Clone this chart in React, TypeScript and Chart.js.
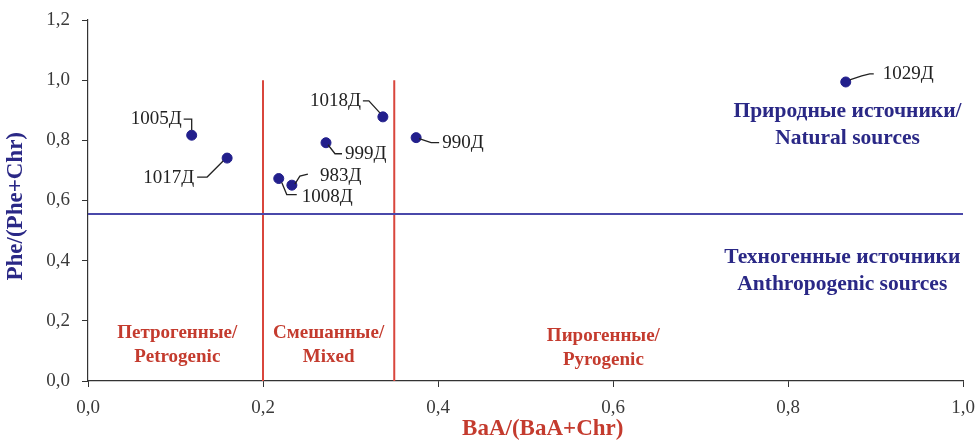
import React, { useEffect, useRef } from "react";
import { Chart, registerables } from "chart.js";

Chart.register(...registerables);

const sampleLabels = ["1005Д", "1017Д", "1018Д", "999Д", "1008Д", "983Д", "990Д", "1029Д"];
const xValues = [0.1185, 0.159, 0.337, 0.272, 0.218, 0.233, 0.375, 0.866];
const yValues = [0.817, 0.741, 0.878, 0.792, 0.673, 0.651, 0.809, 0.994];

const boundaryY = 0.555;
const boundaryX1 = 0.2;
const boundaryX2 = 0.35;

const xTickValues = [0, 0.2, 0.4, 0.6, 0.8, 1.0];
const yTickValues = [0, 0.2, 0.4, 0.6, 0.8, 1.0, 1.2];

const SERIF = "'Liberation Serif', 'Times New Roman', serif";
const RED = "#c43b2e";
const BLUE = "#2a2886";
const POINT = "#221f8c";

// leader-line styles (pixel offsets from the point), text anchor and alignment
const leaderStyles: Record<string, { path: number[][]; tx: number; ty: number; align: CanvasTextAlign }> = {
  "1005Д": { path: [[0, -5], [0, -16], [-8, -16]], tx: -10, ty: -16, align: "right" },
  "1017Д": { path: [[-4, 3], [-20, 19], [-30, 19]], tx: -33, ty: 20, align: "right" },
  "1018Д": { path: [[-3, -4], [-14, -16], [-20, -16]], tx: -22, ty: -16, align: "right" },
  "999Д": { path: [[2, 2], [9, 11], [16, 11]], tx: 19, ty: 11, align: "left" },
  "1008Д": { path: [[3, 4], [8, 16], [18, 16]], tx: 23, ty: 18, align: "left" },
  "983Д": { path: [[3, -1], [8, -9], [16, -11]], tx: 28, ty: -9, align: "left" },
  "990Д": { path: [[3, 1], [9, 3], [15, 5], [23, 5]], tx: 26, ty: 5, align: "left" },
  "1029Д": { path: [[4, -2], [16, -6], [24, -8], [28, -8]], tx: 37, ty: -8, align: "left" },
};

const zoneTexts = [
  { lines: ["Петрогенные/", "Petrogenic"], x: 0.102, y: [0.16, 0.08], color: RED, size: 19 },
  { lines: ["Смешанные/", "Mixed"], x: 0.275, y: [0.16, 0.08], color: RED, size: 19 },
  { lines: ["Пирогенные/", "Pyrogenic"], x: 0.589, y: [0.148, 0.07], color: RED, size: 19 },
  { lines: ["Природные источники/", "Natural sources"], x: 0.868, y: [0.897, 0.807], color: BLUE, size: 21.5 },
  { lines: ["Техногенные источники", "Anthropogenic sources"], x: 0.862, y: [0.41, 0.322], color: BLUE, size: 21.5 },
];

const labelPlugin = {
  id: "labels",
  afterDatasetsDraw(chart: any) {
    const ctx = chart.ctx;
    const xs = chart.scales.x;
    const ys = chart.scales.y;
    ctx.save();
    ctx.font = `19px ${SERIF}`;
    ctx.textBaseline = "middle";
    ctx.strokeStyle = "#222";
    ctx.lineWidth = 1.3;
    sampleLabels.forEach((lab, i) => {
      const px = xs.getPixelForValue(xValues[i]);
      const py = ys.getPixelForValue(yValues[i]);
      const st = leaderStyles[lab];
      ctx.beginPath();
      st.path.forEach((p, k) => {
        if (k === 0) ctx.moveTo(px + p[0], py + p[1]);
        else ctx.lineTo(px + p[0], py + p[1]);
      });
      ctx.stroke();
      ctx.fillStyle = "#222";
      ctx.textAlign = st.align;
      ctx.fillText(lab, px + st.tx, py + st.ty);
    });
    ctx.textAlign = "center";
    zoneTexts.forEach((z) => {
      ctx.font = `bold ${z.size}px ${SERIF}`;
      ctx.fillStyle = z.color;
      z.lines.forEach((t, k) => {
        ctx.fillText(t, xs.getPixelForValue(z.x), ys.getPixelForValue(z.y[k]));
      });
    });
    ctx.restore();
  },
};

const fmt = (v: number) => v.toFixed(1).replace(".", ",");

export default function App() {
  const ref = useRef<HTMLCanvasElement>(null);
  useEffect(() => {
    if (!ref.current) return;
    const chart = new Chart(ref.current, {
      type: "scatter",
      data: {
        datasets: [
          {
            type: "line",
            data: [{ x: 0, y: boundaryY }, { x: 1, y: boundaryY }],
            borderColor: "#4a48aa",
            borderWidth: 2,
            pointRadius: 0,
          } as any,
          {
            type: "line",
            data: [{ x: boundaryX1, y: 0 }, { x: boundaryX1, y: 1.0 }],
            borderColor: "#d9463c",
            borderWidth: 2,
            pointRadius: 0,
          } as any,
          {
            type: "line",
            data: [{ x: boundaryX2, y: 0 }, { x: boundaryX2, y: 1.0 }],
            borderColor: "#d9463c",
            borderWidth: 2,
            pointRadius: 0,
          } as any,
          {
            data: xValues.map((x, i) => ({ x, y: yValues[i] })),
            backgroundColor: POINT,
            borderColor: POINT,
            pointRadius: 5,
          },
        ],
      },
      options: {
        animation: false,
        responsive: false,
        layout: { padding: { top: 20, right: 13, left: 0, bottom: 0 } },
        plugins: { legend: { display: false }, tooltip: { enabled: false } },
        scales: {
          x: {
            type: "linear",
            min: 0,
            max: 1,
            afterFit: (s: any) => { s.height = 62; s.paddingLeft = 0; s.paddingRight = 0; },
            afterBuildTicks: (s: any) => { s.ticks = xTickValues.map((v) => ({ value: v })); },
            ticks: {
              callback: (v: any) => fmt(Number(v)),
              color: "#3a3a3a",
              font: { family: SERIF, size: 19 },
              padding: 10,
              maxRotation: 0,
            },
            grid: { drawOnChartArea: false, drawTicks: true, tickLength: 6, color: "#333" },
            border: { display: true, color: "#333", width: 1.2 },
            title: {
              display: true,
              text: "      BaA/(BaA+Chr)",
              color: RED,
              font: { family: SERIF, size: 23, weight: "bold" },
              padding: 0,
            },
          },
          y: {
            type: "linear",
            min: 0,
            max: 1.2,
            afterFit: (s: any) => { s.width = 88; s.paddingTop = 0; s.paddingBottom = 0; },
            afterBuildTicks: (s: any) => { s.ticks = yTickValues.map((v) => ({ value: v })); },
            ticks: {
              callback: (v: any) => fmt(Number(v)),
              color: "#3a3a3a",
              font: { family: SERIF, size: 19 },
              padding: 12,
            },
            grid: { drawOnChartArea: false, drawTicks: true, tickLength: 6, color: "#333" },
            border: { display: true, color: "#333", width: 1.2 },
            title: {
              display: true,
              text: "Phe/(Phe+Chr)  ",
              color: BLUE,
              font: { family: SERIF, size: 23, weight: "bold" },
              padding: 2,
            },
          },
        },
      },
      plugins: [labelPlugin],
    });
    return () => chart.destroy();
  }, []);
  return (
    <div style={{ position: "absolute", left: 0, top: 0, width: 976, height: 443, background: "#fff" }}>
      <canvas ref={ref} width={976} height={443} />
    </div>
  );
}
